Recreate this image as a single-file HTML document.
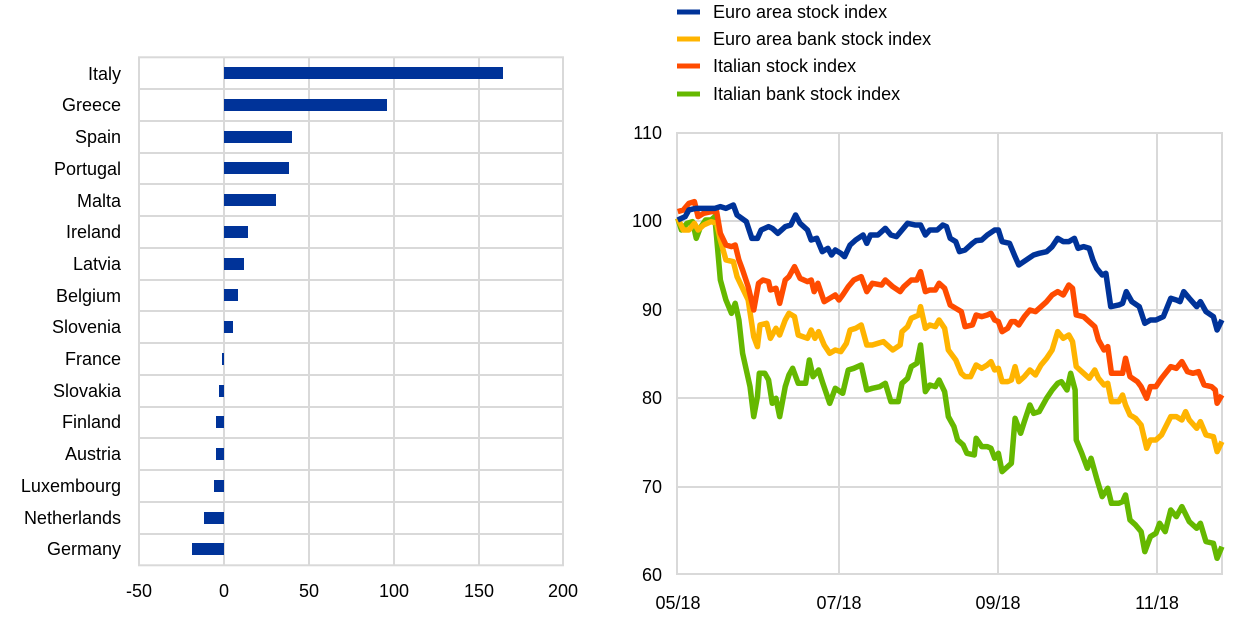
<!DOCTYPE html>
<html><head><meta charset="utf-8"><style>
html,body{margin:0;padding:0;background:#fff;}
svg{display:block;font-family:"Liberation Sans",Arial,sans-serif;}
</style></head><body>
<svg width="1240" height="620" viewBox="0 0 1240 620" xmlns="http://www.w3.org/2000/svg">
<g stroke="#d9d9d9" stroke-width="2" fill="none">
<rect x="139" y="57.3" width="424" height="508"/>
<line x1="224" y1="57" x2="224" y2="566"/><line x1="309" y1="57" x2="309" y2="566"/><line x1="394" y1="57" x2="394" y2="566"/><line x1="479" y1="57" x2="479" y2="566"/>
<line x1="139" y1="89" x2="563" y2="89"/><line x1="139" y1="121" x2="563" y2="121"/><line x1="139" y1="153" x2="563" y2="153"/><line x1="139" y1="184" x2="563" y2="184"/><line x1="139" y1="216" x2="563" y2="216"/><line x1="139" y1="248" x2="563" y2="248"/><line x1="139" y1="280" x2="563" y2="280"/><line x1="139" y1="311" x2="563" y2="311"/><line x1="139" y1="343" x2="563" y2="343"/><line x1="139" y1="375" x2="563" y2="375"/><line x1="139" y1="407" x2="563" y2="407"/><line x1="139" y1="438" x2="563" y2="438"/><line x1="139" y1="470" x2="563" y2="470"/><line x1="139" y1="502" x2="563" y2="502"/><line x1="139" y1="534" x2="563" y2="534"/>
</g>
<g fill="#003399">
<rect x="224" y="67" width="279" height="12"/>
<rect x="224" y="99" width="163" height="12"/>
<rect x="224" y="131" width="68" height="12"/>
<rect x="224" y="162" width="65" height="12"/>
<rect x="224" y="194" width="52" height="12"/>
<rect x="224" y="226" width="24" height="12"/>
<rect x="224" y="258" width="20" height="12"/>
<rect x="224" y="289" width="14" height="12"/>
<rect x="224" y="321" width="9" height="12"/>
<rect x="222" y="353" width="2" height="12"/>
<rect x="219" y="385" width="5" height="12"/>
<rect x="216" y="416" width="8" height="12"/>
<rect x="216" y="448" width="8" height="12"/>
<rect x="214" y="480" width="10" height="12"/>
<rect x="204" y="512" width="20" height="12"/>
<rect x="192" y="543" width="32" height="12"/>
</g>
<g font-size="18" fill="#000" text-anchor="end">
<text x="121" y="80">Italy</text><text x="121" y="111">Greece</text><text x="121" y="143">Spain</text><text x="121" y="175">Portugal</text><text x="121" y="207">Malta</text><text x="121" y="238">Ireland</text><text x="121" y="270">Latvia</text><text x="121" y="302">Belgium</text><text x="121" y="333">Slovenia</text><text x="121" y="365">France</text><text x="121" y="397">Slovakia</text><text x="121" y="428">Finland</text><text x="121" y="460">Austria</text><text x="121" y="492">Luxembourg</text><text x="121" y="524">Netherlands</text><text x="121" y="555">Germany</text>
</g>
<g font-size="18" fill="#000" text-anchor="middle">
<text x="139" y="597">-50</text><text x="224" y="597">0</text><text x="309" y="597">50</text><text x="394" y="597">100</text><text x="479" y="597">150</text><text x="563" y="597">200</text>
</g>
<g stroke="#d9d9d9" stroke-width="2" fill="none">
<rect x="677" y="133" width="545" height="441"/>
<line x1="677" y1="221" x2="1222" y2="221"/><line x1="677" y1="310" x2="1222" y2="310"/><line x1="677" y1="398" x2="1222" y2="398"/><line x1="677" y1="487" x2="1222" y2="487"/>
<line x1="839" y1="133" x2="839" y2="574"/><line x1="998" y1="133" x2="998" y2="574"/><line x1="1157" y1="133" x2="1157" y2="574"/>
</g>
<g font-size="18" fill="#000" text-anchor="end">
<text x="662" y="139">110</text><text x="662" y="227">100</text><text x="662" y="316">90</text><text x="662" y="404">80</text><text x="662" y="493">70</text><text x="662" y="581">60</text>
</g>
<g font-size="18" fill="#000" text-anchor="middle">
<text x="678" y="609">05/18</text><text x="839" y="609">07/18</text><text x="998" y="609">09/18</text><text x="1157" y="609">11/18</text>
</g>
<g transform="translate(659.2,120) scale(0.3707,0.3333)" fill="none" stroke-width="5.5" stroke-linejoin="round">
<polyline vector-effect="non-scaling-stroke" stroke="#65b800" points="50,295 60,330 75,310 90,305 100,355 110,325 125,300 140,300 150,290 165,480 180,540 195,580 205,550 215,600 225,700 245,800 255,890 265,830 270,760 285,760 295,780 305,850 315,835 325,890 340,800 350,765 360,745 375,790 395,790 405,720 415,770 430,750 440,785 460,850 475,805 495,820 510,750 525,745 545,735 560,810 575,805 595,800 610,790 625,845 645,845 655,790 670,775 680,740 695,730 705,675 718,815 730,795 745,800 755,780 770,815 780,890 795,920 805,960 820,975 830,1000 850,1005 855,955 870,980 885,980 895,985 905,1015 915,1000 925,1055 940,1040 950,1030 960,895 975,940 985,905 1000,855 1010,880 1025,875 1045,835 1060,810 1075,790 1085,785 1100,810 1110,760 1122,810 1125,960 1140,1000 1155,1045 1165,1015 1180,1075 1195,1130 1210,1105 1220,1150 1240,1150 1250,1145 1258,1125 1270,1200 1285,1215 1300,1235 1310,1295 1325,1250 1340,1240 1350,1210 1365,1235 1380,1170 1395,1190 1410,1160 1430,1205 1450,1225 1460,1210 1475,1265 1495,1270 1505,1315 1518,1280"/>
<polyline vector-effect="non-scaling-stroke" stroke="#ffb400" points="50,295 65,330 80,330 95,310 105,330 120,315 140,305 155,310 165,360 180,420 200,425 210,470 225,505 240,540 255,650 265,680 272,615 290,610 300,655 315,625 325,645 340,600 350,580 365,590 375,645 400,655 410,630 420,655 430,635 445,675 460,700 475,690 490,695 505,670 515,630 530,625 545,615 560,675 575,675 590,670 605,665 620,680 630,690 650,675 655,635 670,620 680,595 700,585 705,560 718,625 730,615 745,620 755,600 770,625 780,690 800,720 815,760 825,770 840,770 855,735 870,745 885,735 895,725 905,750 915,745 925,785 940,785 950,780 960,740 970,785 985,770 1000,750 1015,765 1030,735 1045,715 1060,690 1075,635 1090,655 1105,645 1115,665 1125,740 1145,760 1160,775 1175,750 1185,775 1200,795 1210,790 1220,845 1240,845 1250,825 1258,855 1270,885 1285,895 1300,915 1315,985 1325,960 1340,960 1355,945 1380,890 1395,890 1410,900 1420,875 1430,900 1450,925 1460,905 1475,945 1495,950 1505,995 1518,965"/>
<polyline vector-effect="non-scaling-stroke" stroke="#ff4b00" points="50,275 65,270 80,250 95,245 105,290 120,280 140,275 155,275 165,340 180,375 195,380 205,375 215,420 225,450 240,500 255,570 268,490 280,480 295,485 300,510 315,505 325,550 340,480 350,470 365,440 380,475 400,485 410,480 418,515 428,490 445,545 460,535 475,525 485,540 495,525 510,500 525,480 545,470 560,515 575,490 600,495 610,480 630,500 650,515 660,500 680,480 695,480 705,455 718,515 730,510 745,510 755,490 770,505 785,555 800,565 815,575 825,620 845,615 855,585 870,590 885,585 895,580 905,600 915,605 925,635 940,625 950,605 960,605 970,615 985,590 1000,570 1015,575 1030,560 1045,545 1060,525 1075,515 1090,525 1105,495 1115,505 1125,585 1145,590 1160,605 1175,620 1185,660 1200,690 1210,680 1220,760 1240,760 1250,760 1258,715 1270,770 1290,785 1300,800 1315,835 1325,800 1340,800 1355,775 1380,740 1395,745 1410,725 1425,755 1440,760 1455,755 1470,795 1490,800 1500,810 1505,850 1518,825"/>
<polyline vector-effect="non-scaling-stroke" stroke="#003399" points="50,300 70,290 80,270 100,265 150,265 165,260 180,265 200,255 210,285 235,305 250,355 265,355 275,330 295,320 305,325 320,340 340,320 355,315 368,285 380,310 400,330 410,360 425,355 440,395 455,385 465,405 475,390 490,400 500,410 515,375 530,360 550,345 560,370 570,345 590,345 610,325 625,345 640,350 655,330 670,310 690,315 705,315 718,345 730,330 750,330 765,315 775,320 785,355 800,365 810,395 825,390 845,370 855,362 870,360 885,345 905,330 915,330 925,365 945,370 960,410 970,435 990,420 1010,405 1025,400 1045,395 1060,380 1075,355 1090,365 1105,365 1120,355 1130,385 1145,380 1160,385 1170,420 1180,445 1195,465 1205,460 1218,560 1240,555 1250,550 1260,515 1275,545 1295,560 1310,610 1325,600 1340,600 1360,590 1380,535 1395,540 1405,545 1415,515 1430,535 1450,560 1460,545 1475,575 1495,590 1505,630 1518,600"/>
</g>
<g stroke-width="5">
<line x1="677" y1="12" x2="700" y2="12" stroke="#003399"/>
<line x1="677" y1="39" x2="700" y2="39" stroke="#ffb400"/>
<line x1="677" y1="66" x2="700" y2="66" stroke="#ff4b00"/>
<line x1="677" y1="94" x2="700" y2="94" stroke="#65b800"/>
</g>
<g font-size="18" fill="#000">
<text x="713" y="18">Euro area stock index</text>
<text x="713" y="45">Euro area bank stock index</text>
<text x="713" y="72">Italian stock index</text>
<text x="713" y="100">Italian bank stock index</text>
</g>
</svg>
</body></html>
